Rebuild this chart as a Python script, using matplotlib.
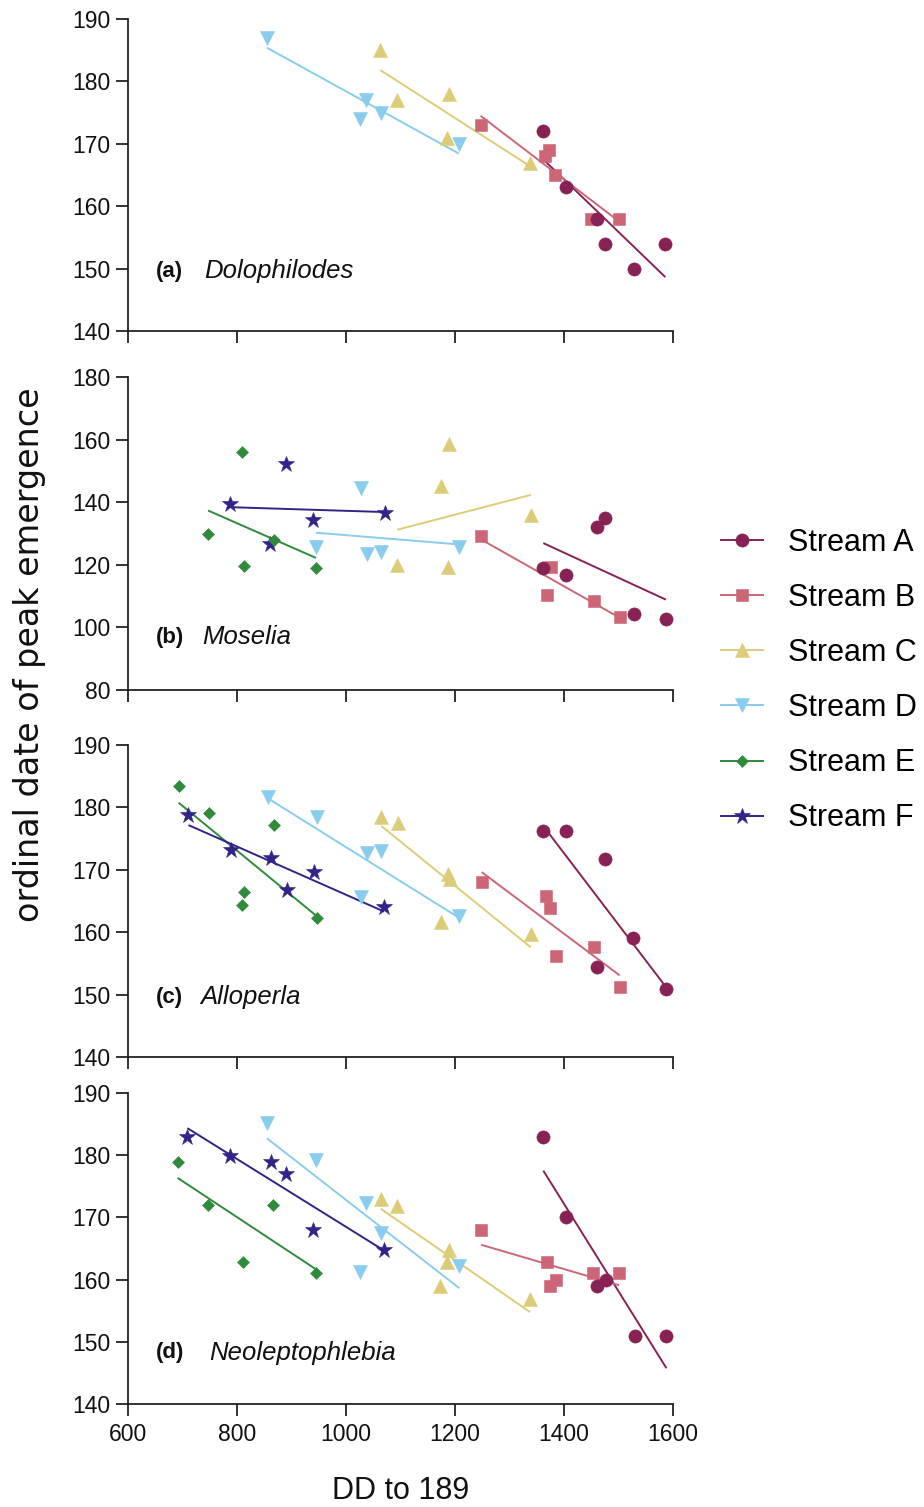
import numpy as np
import matplotlib
matplotlib.use("Agg")
import matplotlib.pyplot as plt
from matplotlib.lines import Line2D

plt.rcParams['font.family'] = ['Liberation Sans', 'DejaVu Sans']

# ---------------- data ----------------
streams = ["Stream A", "Stream B", "Stream C", "Stream D", "Stream E", "Stream F"]
colors = ["#882255", "#CC6677", "#DDCC77", "#88CCEE", "#2F8A3C", "#332288"]
markers = ["o", "s", "^", "v", "D", "*"]
msizes = [9.5, 8.5, 9.5, 9.5, 6.5, 12]

panel_tags = ["(a)", "(b)", "(c)", "(d)"]
genera = ["Dolophilodes", "Moselia", "Alloperla", "Neoleptophlebia"]
ylims = [(140, 190), (80, 180), (140, 190), (140, 190)]
ysteps = [10, 20, 10, 10]
xticks = [600, 800, 1000, 1200, 1400, 1600]

# (a) Dolophilodes
dolo_dd = {
    "Stream A": [1361, 1403, 1460, 1475, 1528, 1586],
    "Stream B": [1247, 1366, 1373, 1384, 1450, 1501],
    "Stream C": [1063, 1093, 1189, 1186, 1338],
    "Stream D": [855, 1036, 1026, 1064, 1207],
}
dolo_day = {
    "Stream A": [172, 163, 158, 154, 150, 154],
    "Stream B": [173, 168, 169, 165, 158, 158],
    "Stream C": [185, 177, 178, 171, 167],
    "Stream D": [187, 177, 174, 175, 170],
}

# (b) Moselia
mose_dd = {
    "Stream A": [1362, 1404, 1460, 1476, 1528, 1587],
    "Stream B": [1248, 1369, 1376, 1455, 1502],
    "Stream C": [1094, 1174, 1187, 1189, 1339],
    "Stream D": [945, 1027, 1038, 1065, 1208],
    "Stream E": [747, 810, 812, 868, 945],
    "Stream F": [788, 861, 890, 939, 1071],
}
mose_day = {
    "Stream A": [119.1, 116.7, 132.1, 135.0, 104.3, 102.6],
    "Stream B": [129.1, 110.3, 119.4, 108.4, 103.4],
    "Stream C": [119.9, 145.3, 119.4, 158.7, 136.0],
    "Stream D": [125.7, 144.4, 123.4, 124.1, 125.7],
    "Stream E": [130.0, 156.0, 119.5, 128.0, 119.0],
    "Stream F": [139.3, 126.5, 152.2, 134.3, 136.4],
}

# (c) Alloperla
allo_dd = {
    "Stream A": [1362, 1403, 1460, 1476, 1527, 1587],
    "Stream B": [1249, 1367, 1375, 1385, 1455, 1502],
    "Stream C": [1065, 1095, 1174, 1188, 1190, 1339],
    "Stream D": [856, 946, 1027, 1039, 1065, 1208],
    "Stream E": [693, 748, 810, 813, 867, 946],
    "Stream F": [711, 789, 863, 891, 941, 1070],
}
allo_day = {
    "Stream A": [176.2, 176.2, 154.4, 171.7, 159.0, 150.9],
    "Stream B": [168.1, 165.8, 163.9, 156.2, 157.7, 151.2],
    "Stream C": [178.5, 177.5, 161.6, 169.3, 168.6, 159.7],
    "Stream D": [181.7, 178.4, 165.7, 172.7, 173.0, 162.6],
    "Stream E": [183.4, 179.1, 164.4, 166.5, 177.2, 162.3],
    "Stream F": [178.8, 173.2, 171.9, 166.7, 169.7, 164.1],
}

# (d) Neoleptophlebia
neo_dd = {
    "Stream A": [1362, 1404, 1460, 1477, 1530, 1588],
    "Stream B": [1248, 1369, 1375, 1385, 1454, 1501],
    "Stream C": [1064, 1094, 1173, 1186, 1189, 1338],
    "Stream D": [855, 945, 1025, 1037, 1064, 1208],
    "Stream E": [691, 746, 811, 866, 945],
    "Stream F": [709, 788, 862, 890, 939, 1069],
}
neo_day = {
    "Stream A": [183.0, 170.0, 158.9, 160.0, 151.0, 151.0],
    "Stream B": [167.9, 162.9, 158.9, 160.0, 161.1, 161.1],
    "Stream C": [172.9, 171.9, 158.9, 162.8, 164.8, 156.9],
    "Stream D": [185.2, 179.3, 161.2, 172.3, 167.5, 162.2],
    "Stream E": [178.9, 172.0, 162.9, 172.0, 161.0],
    "Stream F": [183.0, 179.9, 178.9, 176.9, 167.9, 164.8],
}

panels_dd = [dolo_dd, mose_dd, allo_dd, neo_dd]
panels_day = [dolo_day, mose_day, allo_day, neo_day]

# ---------------- layout ----------------
W, H = 924, 1507
fig = plt.figure(figsize=(W / 100, H / 100), dpi=100)

left_px, right_px = 128, 673
panel_px = [(19, 331), (377, 690), (745, 1057), (1093, 1404)]
tag_y = [0.192, 0.169, 0.191, 0.164]
gen_x = [0.140, 0.137, 0.133, 0.149]

axes = []
for i, (top, bot) in enumerate(panel_px):
    ax = fig.add_axes([left_px / W, 1 - bot / H, (right_px - left_px) / W, (bot - top) / H])
    axes.append(ax)
    dd = panels_dd[i]
    day = panels_day[i]
    for k in reversed(range(len(streams))):
        s = streams[k]
        if s not in dd:
            continue
        x = np.array(dd[s], dtype=float)
        y = np.array(day[s], dtype=float)
        slope, icpt = np.polyfit(x, y, 1)
        xl = np.array([x.min(), x.max()])
        ax.plot(xl, slope * xl + icpt, color=colors[k], lw=1.4, zorder=2 + k * 0.01,
                solid_capstyle='butt')
        ax.plot(x, y, ls='none', marker=markers[k], ms=msizes[k], color=colors[k],
                mec=colors[k], mew=0.4, zorder=3 + (6 - k) * 0.01)
    lo, hi = ylims[i]
    ax.set_xlim(600, 1600)
    ax.set_ylim(lo, hi)
    ax.set_yticks(np.arange(lo, hi + 0.1, ysteps[i]))
    ax.set_xticks(xticks)
    for sp in ['top', 'right']:
        ax.spines[sp].set_visible(False)
    for sp in ['left', 'bottom']:
        ax.spines[sp].set_linewidth(1.3)
        ax.spines[sp].set_color('#222222')
    ax.tick_params(direction='out', length=8.5, width=1.3, color='#222222',
                   labelsize=16.5, pad=4, labelcolor='#111111')
    ax.tick_params(axis='x', pad=5)
    if i < 3:
        ax.set_xticklabels([])
    ax.patch.set_alpha(0)
    ax.text(0.051, tag_y[i], panel_tags[i], transform=ax.transAxes, fontsize=16,
            fontweight='bold', va='center', ha='left', color='#111111')
    ax.text(gen_x[i], tag_y[i], genera[i], transform=ax.transAxes, fontsize=18.5,
            fontstyle='italic', va='center', ha='left', color='#111111')

fig.text(30 / W, 1 - 655 / H, "ordinal date of peak emergence", rotation=90,
         ha='center', va='center', fontsize=24, family=['DejaVu Sans'], color='#111111')
fig.text((left_px + right_px) / 2 / W, 1 - 1491 / H, "DD to 189", ha='center',
         va='center', fontsize=22, color='#111111')

handles = [Line2D([0], [0], color=colors[k], lw=1.4, marker=markers[k], ms=msizes[k],
                  mec=colors[k], mew=0.4) for k in range(len(streams))]
fig.legend(handles, streams, loc='upper left', bbox_to_anchor=(721 / W, 1 - 528 / H),
           frameon=False, fontsize=22, handlelength=1.37, handletextpad=0.82,
           labelspacing=0.82, borderpad=0, borderaxespad=0)

fig.savefig("out.png", dpi=100)
